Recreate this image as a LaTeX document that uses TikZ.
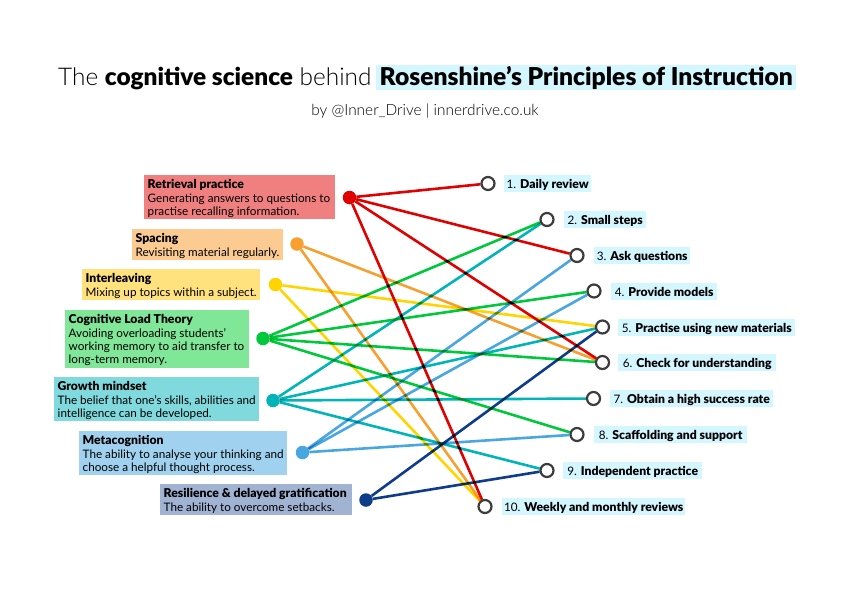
\documentclass[tikz,border=0pt]{standalone}
\usepackage{fontspec}
\setmainfont[BoldFont={Lato Black}]{Lato}
\newfontfamily\lightf[BoldFont={Lato Black}]{Lato Light}
\definecolor{cRet}{HTML}{E00000}\definecolor{bRet}{HTML}{F08080}
\definecolor{cSpa}{HTML}{F7A030}\definecolor{bSpa}{HTML}{FBCB92}
\definecolor{cInt}{HTML}{FFD400}\definecolor{bInt}{HTML}{FFE27D}
\definecolor{cClt}{HTML}{00C83C}\definecolor{bClt}{HTML}{80E698}
\definecolor{cGro}{HTML}{00B4B8}\definecolor{bGro}{HTML}{80D9DC}
\definecolor{cMet}{HTML}{48A6E0}\definecolor{bMet}{HTML}{A0D2F0}
\definecolor{cRes}{HTML}{0F3C8A}\definecolor{bRes}{HTML}{A0B3D2}
\definecolor{hl}{HTML}{D4F6FF}
\definecolor{ring}{HTML}{3C3C3C}
\newcommand{\bt}[1]{{\fontsize{12.2}{13}\selectfont\bfseries #1}}
\tikzset{
  infobox/.style={anchor=north west,inner sep=0pt,align=left,font=\fontsize{11.7}{13}\selectfont,text=black},
  dot/.style={circle,inner sep=0pt,minimum size=13.5pt,fill=#1},
  target/.style={circle,inner sep=0pt,minimum size=13pt,draw=ring,line width=2.2pt,fill=white},
  tag/.style={anchor=west,inner sep=0pt,fill=hl,minimum height=17pt,font=\fontsize{11.7}{13}\selectfont,text=black,text height=10pt,text depth=1pt},
  link/.style={line width=2.6pt,draw=#1,blend mode=multiply}
}
\newcommand{\ibox}[7]{% name, x1,y1,x2,y2,color,text
  \pgfmathsetmacro{\bw}{#4-#2}\pgfmathsetmacro{\bh}{#5-#3}\pgfmathsetmacro{\tw}{\bw-7}
  \node[infobox,fill=#6,minimum width=\bw pt,minimum height=\bh pt] (#1) at (#2,#3) {\begin{minipage}{\tw pt}\vspace*{2pt}\raggedright #7\end{minipage}};}
\begin{document}
\begin{tikzpicture}[x=1pt,y=-1pt]
\useasboundingbox (0,0) rectangle (849,600);
\fill[white] (0,0) rectangle (849,600);
% title
\node[anchor=base west,inner sep=0pt,font=\lightf\fontsize{24.4}{26}\selectfont] (titleA) at (58,85) {The \textbf{cognitive science} behind};
\node[anchor=base west,inner sep=0pt,fill=hl,minimum width=420pt,font=\fontsize{24.6}{26}\selectfont\bfseries,text height=20pt,text depth=5pt] (titleB) at (376,85) {Rosenshine’s Principles of Instruction};
\node[anchor=base,inner sep=0pt,font=\lightf\fontsize{15.4}{17}\selectfont,text=black] (sub) at (425,115) {by @Inner\_Drive | innerdrive.co.uk};
% boxes
\ibox{boxRet}{144}{175}{335}{219}{bRet}{\bt{Retrieval practice}\\[1pt]Generating answers to questions to practise recalling information.}
\ibox{boxSpa}{132}{229}{283}{260}{bSpa}{\bt{Spacing}\\[1pt]Revisiting material regularly.}
\ibox{boxInt}{82}{269}{260}{300}{bInt}{\bt{Interleaving}\\[1pt]Mixing up topics within a subject.}
\ibox{boxClt}{65}{310}{249}{368}{bClt}{\bt{Cognitive Load Theory}\\[1pt]Avoiding overloading students’ working memory to aid transfer to long-term memory.}
\ibox{boxGro}{54}{377}{259}{421}{bGro}{\bt{Growth mindset}\\[1pt]The belief that one’s skills, abilities and intelligence can be developed.}
\ibox{boxMet}{79}{431}{287}{475}{bMet}{\bt{Metacognition}\\[1pt]The ability to analyse your thinking and choose a helpful thought process.}
\ibox{boxRes}{160}{484}{352}{515}{bRes}{\bt{Resilience \& delayed gratification}\\[1pt]The ability to overcome setbacks.}
% left dots
\node[dot=cRet] (ret) at (349.5,197.5) {};
\node[dot=cSpa] (spa) at (297,244) {};
\node[dot=cInt] (int) at (275.5,284.5) {};
\node[dot=cClt] (clt) at (263,338.5) {};
\node[dot=cGro] (gro) at (273,400.5) {};
\node[dot=cMet] (met) at (302.5,452.5) {};
\node[dot=cRes] (res) at (366,500) {};
% right targets
\node[target] (r1) at (488,183.5) {};
\node[target] (r2) at (547,219.5) {};
\node[target] (r3) at (577,255.5) {};
\node[target] (r4) at (594,291) {};
\node[target] (r5) at (602.5,327) {};
\node[target] (r6) at (602.5,362.5) {};
\node[target] (r7) at (593.5,398.5) {};
\node[target] (r8) at (577,434.5) {};
\node[target] (r9) at (547,470.5) {};
\node[target] (r10) at (485,506.5) {};
% labels
\node[tag,minimum width=87pt] (t1) at (504,183.5) {1. \bt{Daily review}};
\node[tag,minimum width=82pt] (t2) at (564,219.5) {2. \bt{Small steps}};
\node[tag,minimum width=96pt] (t3) at (594,255.5) {3. \bt{Ask questions}};
\node[tag,minimum width=106pt] (t4) at (611,291.5) {4. \bt{Provide models}};
\node[tag,minimum width=177pt] (t5) at (618,327.5) {5. \bt{Practise using new materials}};
\node[tag,minimum width=158pt] (t6) at (618,362.5) {6. \bt{Check for understanding}};
\node[tag,minimum width=163pt] (t7) at (610,398.5) {7. \bt{Obtain a high success rate}};
\node[tag,minimum width=153pt] (t8) at (594,434.5) {8. \bt{Scaffolding and support}};
\node[tag,minimum width=139pt] (t9) at (563,470.5) {9. \bt{Independent practice}};
\node[tag,minimum width=183pt] (t10) at (502,506.5) {10. \bt{Weekly and monthly reviews}};
% links
\foreach \t in {2,5,7,9} \draw[link=cGro] (gro) -- (r\t);
\foreach \t in {2,4,6,8} \draw[link=cClt] (clt) -- (r\t);
\foreach \t in {3,4,8} \draw[link=cMet] (met) -- (r\t);
\foreach \t in {5,9} \draw[link=cRes] (res) -- (r\t);
\foreach \t in {5,10} \draw[link=cInt] (int) -- (r\t);
\foreach \t in {6,10} \draw[link=cSpa] (spa) -- (r\t);
\foreach \t in {1,3,6,10} \draw[link=cRet] (ret) -- (r\t);
\end{tikzpicture}
\end{document}
